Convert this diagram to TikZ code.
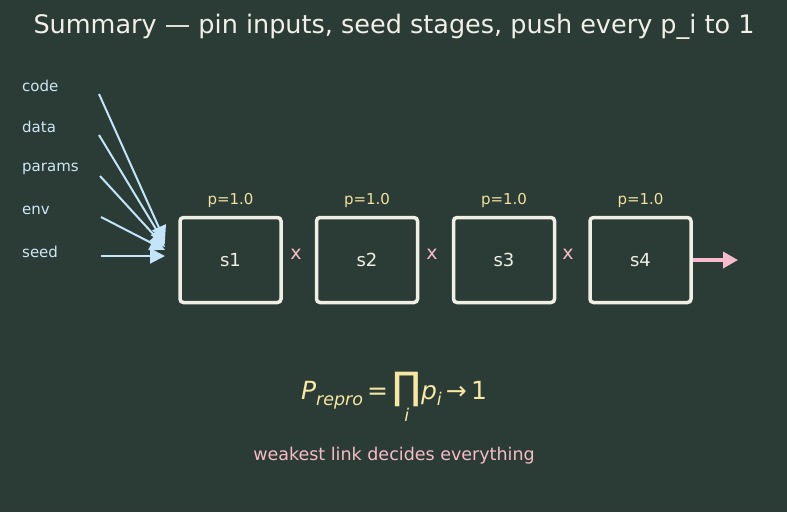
\documentclass[tikz,border=0pt]{standalone}
\usepackage{fontspec}
\setmainfont{DejaVu Sans}
\usetikzlibrary{arrows.meta}
\definecolor{bg}{HTML}{2B3B35}
\definecolor{titlec}{HTML}{F0F0E8}
\definecolor{inc}{HTML}{CFE6F5}
\definecolor{arrc}{HTML}{C4E4FA}
\definecolor{boxc}{HTML}{EFEFE6}
\definecolor{pc}{HTML}{F2E2A0}
\definecolor{pinkc}{HTML}{F6BCCB}
\definecolor{formc}{HTML}{F7E7A2}
\tikzset{
  stagebox/.style={draw=boxc, line width=3.5pt, rounded corners=3.5pt, minimum width=101pt, minimum height=85pt, inner sep=0pt, text=boxc, font=\fontsize{18}{20}\selectfont},
  inlabel/.style={anchor=west, text=inc, font=\fontsize{15}{17}\selectfont, inner sep=0pt},
  plabel/.style={text=pc, font=\fontsize{15}{17}\selectfont, inner sep=0pt},
  xlabel/.style={text=pinkc, font=\fontsize{19}{21}\selectfont, inner sep=0pt},
  inarrow/.style={draw=arrc, line width=2pt, -{Triangle[length=15pt,width=15pt]}},
  outarrow/.style={draw=pinkc, line width=3.5pt, -{Triangle[length=15pt,width=16pt]}}
}
\begin{document}
\begin{tikzpicture}[x=1pt,y=-1pt]
\fill[bg] (0,0) rectangle (787,512);
\useasboundingbox (0,0) rectangle (787,512);
\node[text=titlec, font=\fontsize{25.5}{28}\selectfont] (title) at (394,27) {Summary — pin inputs, seed stages, push every p\_i to 1};
% input labels
\node[inlabel] (code) at (22,86) {code};
\node[inlabel] (data) at (22,127) {data};
\node[inlabel] (params) at (22,169) {params};
\node[inlabel] (env) at (22,210) {env};
\node[inlabel] (seed) at (22,252) {seed};
\coordinate (c0) at (99,94);
\coordinate (d0) at (99,135);
\coordinate (p0) at (100,176);
\coordinate (e0) at (101,217);
\coordinate (s0) at (101,256);
\coordinate (ct) at (165,241);
\coordinate (dt) at (165,244);
\coordinate (pt) at (165,247);
\coordinate (et) at (165,250);
\coordinate (st) at (165,256);
\draw[inarrow] (c0) -- (ct);
\draw[inarrow] (d0) -- (dt);
\draw[inarrow] (p0) -- (pt);
\draw[inarrow] (e0) -- (et);
\draw[inarrow] (s0) -- (st);
% stages
\node[stagebox] (s1) at (230.5,260) {s1};
\node[stagebox] (s2) at (367,260) {s2};
\node[stagebox] (s3) at (504,260) {s3};
\node[stagebox] (s4) at (640.5,260) {s4};
\node[plabel] (p1) at (230.5,200) {p=1.0};
\node[plabel] (p2) at (367,200) {p=1.0};
\node[plabel] (p3) at (504,200) {p=1.0};
\node[plabel] (p4) at (640.5,200) {p=1.0};
\node[xlabel] (x1) at (296,254) {x};
\node[xlabel] (x2) at (432,254) {x};
\node[xlabel] (x3) at (568,254) {x};
\coordinate (outend) at (738,260);
\draw[outarrow] (s4.east) -- (outend);
% formula
\node[text=formc, font=\fontsize{25}{28}\selectfont, anchor=base] (formula) at (394,399) {%
  \itshape P\raisebox{-0.25em}{\fontsize{17.5}{19}\selectfont repro}\upshape\,=\,%
  $\mathop{\hbox{\fontsize{38}{38}\selectfont ∏}}\limits_{\hbox{\fontsize{17.5}{19}\selectfont\itshape\color{formc} i}}$%
  \itshape p\raisebox{-0.25em}{\fontsize{17.5}{19}\selectfont i}\upshape\,→\,1};
\node[text=pinkc, font=\fontsize{17.5}{20}\selectfont] (note) at (394,456) {weakest link decides everything};
\end{tikzpicture}
\end{document}
